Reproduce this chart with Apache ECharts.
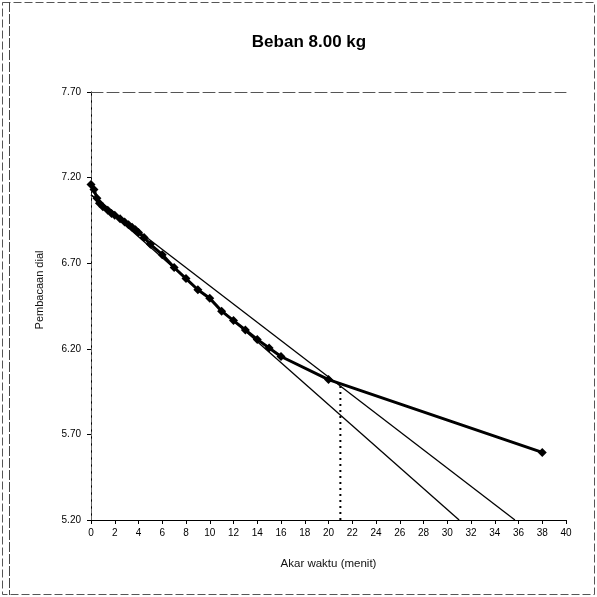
<!DOCTYPE html>
<html>
<head>
<meta charset="utf-8">
<script src="https://cdn.jsdelivr.net/npm/echarts@6/dist/echarts.min.js"></script>
<style>
  html, body { margin: 0; padding: 0; background: #fff; }
  #chart { width: 597px; height: 597px; }
</style>
</head>
<body>
<div id="chart"></div>
<script>
// akar waktu (x) dan pembacaan dial (y)
const akarWaktu = [0, 0.25, 0.5, 0.71, 1, 1.41, 1.73, 2, 2.45, 2.83, 3.16, 3.46, 3.74, 4, 4.47, 5,
  6, 7, 8, 9, 10, 11, 12, 13, 14, 15, 16, 20, 38]
const pembacaan = [7.16, 7.13, 7.08, 7.05, 7.03, 7.01, 6.99, 6.98, 6.96, 6.94, 6.925, 6.91, 6.895, 6.88, 6.85, 6.81,
  6.75, 6.675, 6.61, 6.545, 6.495, 6.42, 6.365, 6.31, 6.255, 6.205, 6.155, 6.02, 5.595]

// garis bantu (metode akar waktu)
const garis1 = [[0, 7.10], [35.7, 5.20]]
const garis2 = [[0, 7.10], [31, 5.20]]
const garisVertikal = [[21, 5.20], [21, 5.99]]

const yTicks = ['5.20', '5.70', '6.20', '6.70', '7.20', '7.70']

const chart = echarts.init(document.getElementById('chart'))
const font = 'Liberation Sans, Arial, sans-serif'

chart.setOption({
  backgroundColor: '#fff',
  animation: false,
  title: {
    text: 'Beban 8.00 kg',
    left: 304,
    top: 29,
    textAlign: 'center',
    textStyle: { fontFamily: font, fontSize: 17, fontWeight: 'bold', color: '#000' },
  },
  graphic: [
    { type: 'rect', shape: { x: 2.5, y: 2.5, width: 592, height: 592 },
      style: { fill: 'none', stroke: '#555', lineWidth: 1, lineDash: [8, 3] } },
    { type: 'line', shape: { x1: 9.5, y1: 2, x2: 9.5, y2: 595 },
      style: { stroke: '#444', lineWidth: 1, lineDash: [10, 2] } },
  ],
  grid: { left: 91, right: 31, top: 92, bottom: 77 },
  xAxis: [
    {
      type: 'value',
      min: 0,
      max: 40,
      interval: 2,
      name: 'Akar waktu (menit)',
      nameLocation: 'middle',
      nameGap: 38,
      nameTextStyle: { fontFamily: font, fontSize: 11.5, color: '#111' },
      axisLine: { lineStyle: { color: '#000', width: 1 } },
      axisTick: { show: true, length: 4, lineStyle: { color: '#000' } },
      axisLabel: { fontFamily: font, fontSize: 10, color: '#000', margin: 8 },
      splitLine: { show: false },
    },
    {
      type: 'value', position: 'top', min: 0, max: 40,
      axisLine: { show: true, lineStyle: { color: '#555', width: 1, type: [12, 4] } },
      axisTick: { show: false }, axisLabel: { show: false }, splitLine: { show: false },
    },
  ],
  yAxis: [
    {
      type: 'value',
      min: 5.2,
      max: 7.7,
      interval: 0.5,
      name: 'Pembacaan dial',
      nameLocation: 'middle',
      nameGap: 46,
      nameTextStyle: { fontFamily: font, fontSize: 11, color: '#111', padding: [0, 0, 0, 32] },
      axisLine: { show: true, lineStyle: { color: '#000', width: 1 } },
      axisTick: { show: true, length: 4, lineStyle: { color: '#000' } },
      axisLabel: {
        fontFamily: font, fontSize: 10, color: '#000', margin: 10,
        formatter: (v) => yTicks.find((t) => Math.abs(+t - v) < 1e-6) || v.toFixed(2),
      },
      splitLine: { show: false },
    },
    {
      type: 'value', position: 'right', min: 5.2, max: 7.7,
      axisLine: { show: true, lineStyle: { color: '#666', width: 1, type: [4, 3] } },
      axisTick: { show: false }, axisLabel: { show: false }, splitLine: { show: false },
    },
  ],
  series: [
    {
      type: 'line',
      data: garis1,
      symbol: 'none',
      lineStyle: { color: '#000', width: 1.3 },
    },
    {
      type: 'line',
      data: garis2,
      symbol: 'none',
      lineStyle: { color: '#000', width: 1.3 },
    },
    {
      type: 'line',
      data: garisVertikal,
      symbol: 'none',
      lineStyle: { color: '#000', width: 2, type: [2, 4] },
    },
    {
      type: 'line',
      data: akarWaktu.map((x, i) => [x, pembacaan[i]]),
      symbol: 'diamond',
      symbolSize: 9,
      itemStyle: { color: '#000' },
      lineStyle: { color: '#000', width: 3 },
      z: 5,
    },
  ],
})
</script>
</body>
</html>
